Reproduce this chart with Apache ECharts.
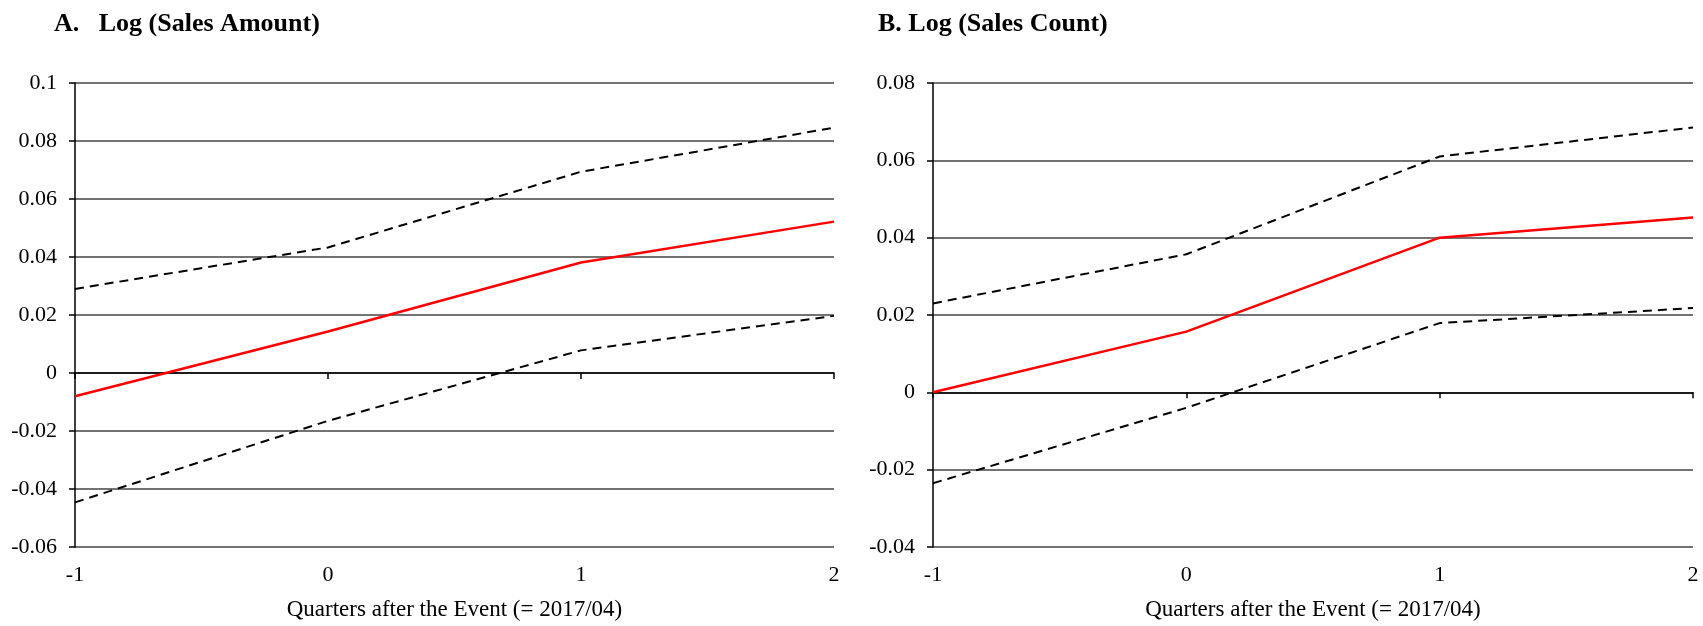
<!DOCTYPE html>
<html>
<head>
<meta charset="utf-8">
<script src="https://cdn.jsdelivr.net/npm/echarts@6/dist/echarts.min.js"></script>
<style>
html,body{margin:0;padding:0;background:#fff;}
#main{width:1703px;height:626px;}
</style>
</head>
<body>
<div id="main"></div>
<script>
// quarters relative to the event
var quarters = [-1, 0, 1, 2];
var xTicks = ['-1', '0', '1', '2'];

// A. Log (Sales Amount)
var amount_est = [-0.008, 0.0143, 0.0381, 0.0522];
var amount_upper = [0.029, 0.0433, 0.0694, 0.0846];
var amount_lower = [-0.0446, -0.0165, 0.0078, 0.0197];

// B. Log (Sales Count)
var count_est = [0, 0.0157, 0.040, 0.0452];
var count_upper = [0.023, 0.0357, 0.061, 0.0685];
var count_lower = [-0.0235, -0.004, 0.0179, 0.0218];

var font = 'Liberation Serif';

function pairs(vals) {
	var out = [];
	for (var i = 0; i < quarters.length; i++) {
		out.push([quarters[i], vals[i]]);
	}
	return out;
}

function yAxis(grid, min, max) {
	return {
		type: 'value', gridIndex: grid, min: min, max: max, interval: 0.02,
		axisLine: { show: true, onZero: false, lineStyle: { color: '#000', width: 1.5 } },
		axisTick: { show: true, length: 6, lineStyle: { color: '#000', width: 1.5 } },
		axisLabel: { color: '#000', fontFamily: font, fontSize: 22, margin: 18 },
		splitLine: { show: true, lineStyle: { color: '#444', width: 1.5 } }
	};
}

// axis drawn at y = 0 with ticks, no labels
function zeroAxis(grid) {
	return {
		type: 'value', gridIndex: grid, min: -1, max: 2, interval: 1,
		axisLine: { show: true, onZero: true, lineStyle: { color: '#000', width: 1.5 } },
		axisTick: { show: true, length: 6, lineStyle: { color: '#000', width: 1.5 } },
		axisLabel: { show: false },
		splitLine: { show: false }
	};
}

// labels along the bottom
function labelAxis(grid) {
	return {
		type: 'value', gridIndex: grid, min: -1, max: 2, interval: 1,
		position: 'bottom',
		axisLine: { show: false, onZero: false },
		axisTick: { show: false },
		splitLine: { show: false },
		axisLabel: {
			color: '#000', fontFamily: font, fontSize: 22, margin: 17,
			formatter: function (v) { return xTicks[quarters.indexOf(v)]; }
		},
		name: 'Quarters after the Event (= 2017/04)',
		nameLocation: 'middle',
		nameGap: 51,
		nameTextStyle: { color: '#000', fontFamily: font, fontSize: 23 }
	};
}

function estLine(xi, yi, vals) {
	return {
		type: 'line', xAxisIndex: xi, yAxisIndex: yi, data: pairs(vals),
		symbol: 'none', silent: true, z: 5,
		lineStyle: { color: '#ff0000', width: 2.5 }
	};
}

function ciLine(xi, yi, vals) {
	return {
		type: 'line', xAxisIndex: xi, yAxisIndex: yi, data: pairs(vals),
		symbol: 'none', silent: true, z: 4,
		lineStyle: { color: '#000', width: 2, type: [9, 6] }
	};
}

var chart = echarts.init(document.getElementById('main'));
chart.setOption({
	animation: false,
	backgroundColor: '#fff',
	title: [
		{ text: 'A.   Log (Sales Amount)', left: 49, top: 6,
			textStyle: { fontFamily: font, fontSize: 26, fontWeight: 'bold', color: '#000' } },
		{ text: 'B. Log (Sales Count)', left: 873, top: 6,
			textStyle: { fontFamily: font, fontSize: 26, fontWeight: 'bold', color: '#000' } }
	],
	grid: [
		{ left: 75, right: 869, top: 83, bottom: 77 },
		{ left: 933, right: 10, top: 83, bottom: 77 }
	],
	xAxis: [zeroAxis(0), labelAxis(0), zeroAxis(1), labelAxis(1)],
	yAxis: [yAxis(0, -0.06, 0.1), yAxis(1, -0.04, 0.08)],
	series: [
		ciLine(0, 0, amount_upper),
		ciLine(0, 0, amount_lower),
		estLine(0, 0, amount_est),
		ciLine(2, 1, count_upper),
		ciLine(2, 1, count_lower),
		estLine(2, 1, count_est)
	]
});
</script>
</body>
</html>
